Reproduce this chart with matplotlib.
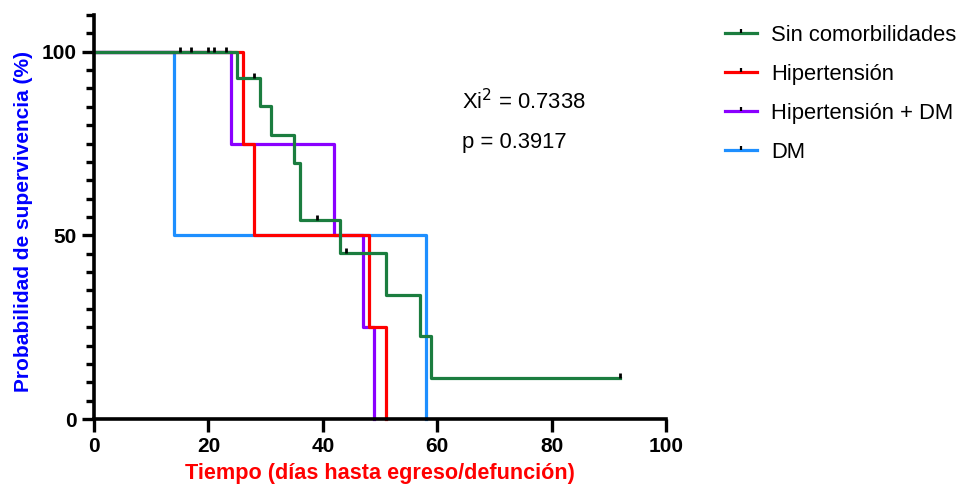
import numpy as np
import matplotlib
matplotlib.use('Agg')
import matplotlib.pyplot as plt
from matplotlib.path import Path
from matplotlib.lines import Line2D
from matplotlib.legend_handler import HandlerTuple
from matplotlib.ticker import MultipleLocator

plt.rcParams['font.family'] = ['Liberation Sans', 'DejaVu Sans']

# Kaplan-Meier step data (time in days, survival in %)
sin_t = [0, 25, 29, 31, 35, 36, 43, 51, 57, 59, 92]
sin_s = [100, 92.86, 85.12, 77.38, 69.64, 54.17, 45.14, 33.85, 22.57, 11.28, 11.28]
sin_cens_t = [15, 17, 20, 21, 23, 28, 39, 44, 92]
sin_cens_s = [100, 100, 100, 100, 100, 92.86, 54.17, 45.14, 11.28]

hta_t = [0, 26, 28, 48, 51]
hta_s = [100, 75, 50, 25, 0]

htadm_t = [0, 24, 42, 47, 49]
htadm_s = [100, 75, 50, 25, 0]

dm_t = [0, 14, 58]
dm_s = [100, 50, 0]

labels = ['Sin comorbilidades', 'Hipertensión', 'Hipertensión + DM', 'DM']
colors = ['#1b7d3f', '#ff0000', '#8a00ff', '#1e8fff']

xi2 = 0.7338
pval = 0.3917

# censor mark: short vertical tick rising from the curve
tick = Path([(0, 0), (0, 1)], [Path.MOVETO, Path.LINETO])

fig = plt.figure(figsize=(9.56, 4.91), dpi=100)
ax = fig.add_axes([0.0983, 0.1466, 0.5984, 0.8229])

lw = 2.3
ax.step(dm_t, dm_s, where='post', color=colors[3], lw=lw, clip_on=False)
ax.step(htadm_t, htadm_s, where='post', color=colors[2], lw=lw, clip_on=False)
ax.step(hta_t, hta_s, where='post', color=colors[1], lw=lw, clip_on=False)
ax.step(sin_t, sin_s, where='post', color=colors[0], lw=lw, clip_on=False)
ax.plot(sin_cens_t, sin_cens_s, ls='none', marker=tick, ms=7, mew=2.0,
        color='black', clip_on=False)

ax.set_xlim(0, 100)
ax.set_ylim(0, 110)
ax.set_xticks([0, 20, 40, 60, 80, 100])
ax.set_yticks([0, 50, 100])
ax.yaxis.set_minor_locator(MultipleLocator(5))

for s in ['top', 'right']:
    ax.spines[s].set_visible(False)
for s in ['left', 'bottom']:
    ax.spines[s].set_linewidth(2.6)
ax.tick_params(axis='both', which='major', width=2.4, length=9, labelsize=15)
ax.tick_params(axis='y', which='minor', width=2.4, length=6)
ax.tick_params(axis='x', pad=4)
for lab in ax.get_xticklabels() + ax.get_yticklabels():
    lab.set_fontweight('bold')

ax.set_xlabel('Tiempo (días hasta egreso/defunción)', color='#ff0000',
              fontsize=15.6, fontweight='bold', labelpad=5)
ax.set_ylabel('Probabilidad de supervivencia (%)', color='#0000ff',
              fontsize=15.0, fontweight='bold')
ax.yaxis.set_label_coords(-0.107, 0.49)

ax.text(0.644, 0.785, 'Xi$^2$ = {:.4f}'.format(xi2), transform=ax.transAxes,
        fontsize=15.8, va='center')
ax.text(0.644, 0.685, 'p = {:.4f}'.format(pval), transform=ax.transAxes,
        fontsize=15.8, va='center')

handles = []
for c in colors:
    handles.append((Line2D([], [], color=c, lw=lw),
                    Line2D([], [], ls='none', marker=tick, ms=6, mew=1.6,
                           color='black')))
fig.legend(handles, labels, handler_map={tuple: HandlerTuple(ndivide=1)},
           loc='upper left', bbox_to_anchor=(0.7375, 0.99), frameon=False,
           fontsize=15.8, handlelength=1.45, handletextpad=0.65,
           labelspacing=0.82)

fig.savefig('out.png', dpi=100)
